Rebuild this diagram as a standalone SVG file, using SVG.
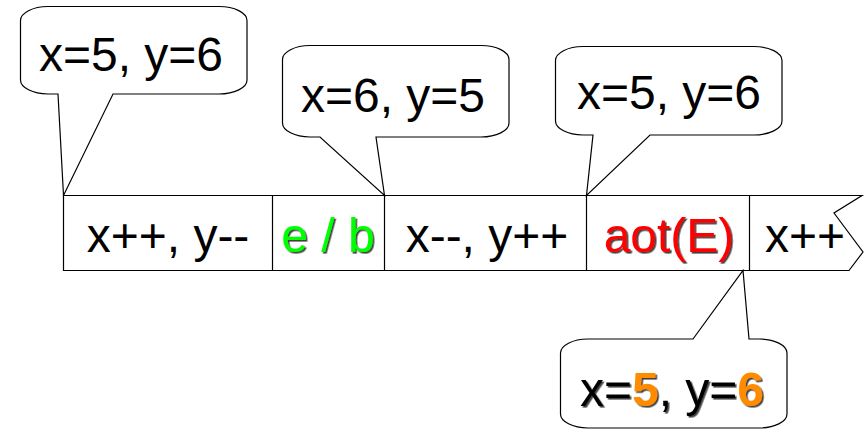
<svg xmlns="http://www.w3.org/2000/svg" width="865" height="432" viewBox="0 0 865 432">
<defs>
<filter id="sh" x="-10%" y="-10%" width="130%" height="130%">
<feDropShadow dx="1.6" dy="1.6" stdDeviation="0" flood-color="#222" flood-opacity="0.85"/>
</filter>
</defs>
<style>
.t{font-family:"Liberation Sans",Arial,sans-serif;font-size:48px;fill:#000;text-anchor:middle}
.c{fill:#fff;stroke:#000;stroke-width:1.2}
.tape{fill:#fff;stroke:#000;stroke-width:1.2}
.div{stroke:#000;stroke-width:1.2;fill:none}
.sh{filter:url(#sh)}
.or{fill:#ff8c00;font-weight:bold}
</style>
<g id="tape">
<path class="tape" d="M63.5,195.5 H862 L834,213 L863,252 L849,270.5 H63.5 Z"/>
<g class="div">
<line x1="272.5" y1="195.5" x2="272.5" y2="270.5"/>
<line x1="384.5" y1="195.5" x2="384.5" y2="270.5"/>
<line x1="586.5" y1="195.5" x2="586.5" y2="270.5"/>
<line x1="749.5" y1="195.5" x2="749.5" y2="270.5"/>
</g>
</g>
<g id="cell1"><text class="t" x="168" y="252">x++, y--</text></g>
<g id="cell2"><text class="t sh" x="328" y="252" style="fill:#00ff00">e / b</text></g>
<g id="cell3"><text class="t" x="487" y="252">x--, y++</text></g>
<g id="cell4"><text class="t sh" x="669" y="252" style="fill:#ff0000">aot(E)</text></g>
<g id="cell5"><text class="t" x="805" y="252">x++</text></g>
<g id="callout1">
<path class="c" d="M48,6.5 H219 A28,14 0 0 1 247,20.5 V80 A28,14 0 0 1 219,94 H113 L63.5,195.5 L58,94 H48 A28,14 0 0 1 20.5,80 V20.5 A28,14 0 0 1 48,6.5 Z"/>
<text class="t" x="131" y="71">x=5, y=6</text>
</g>
<g id="callout2">
<path class="c" d="M310,45.5 H481 A28,14 0 0 1 509,59.5 V123 A28,14 0 0 1 481,137 H376 L384.5,195.5 L320,137 H310 A28,14 0 0 1 282.5,123 V59.5 A28,14 0 0 1 310,45.5 Z"/>
<text class="t" x="393" y="112">x=6, y=5</text>
</g>
<g id="callout3">
<path class="c" d="M583,46.5 H754 A28,14 0 0 1 782,60.5 V121 A28,14 0 0 1 754,135 H650 L586.5,195.5 L593,135 H583 A28,14 0 0 1 555.5,121 V60.5 A28,14 0 0 1 583,46.5 Z"/>
<text class="t" x="669" y="109">x=5, y=6</text>
</g>
<g id="callout4">
<path class="c" d="M588,339 H693 L743,270.5 L749,339 H759 A28,14 0 0 1 787,353 V414 A28,14 0 0 1 759,428 H588 A28,14 0 0 1 560.5,414 V353 A28,14 0 0 1 588,339 Z"/>
<text class="t sh" x="672" y="406">x=<tspan class="or">5</tspan>, y=<tspan class="or">6</tspan></text>
</g>
</svg>
